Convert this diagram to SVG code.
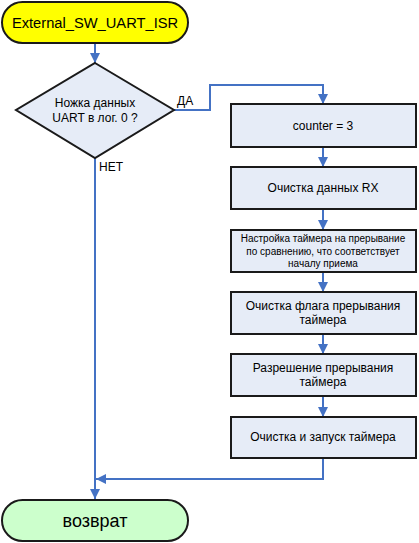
<svg xmlns="http://www.w3.org/2000/svg" width="419" height="543" viewBox="0 0 419 543">
<defs>
<marker id="arr" viewBox="0 0 10 10" refX="10" refY="5" markerWidth="10" markerHeight="10" markerUnits="userSpaceOnUse" orient="auto">
<path d="M0,0 L10,5 L0,10 z" fill="#4472C4"/>
</marker>
</defs>
<style>
.box{fill:#E6ECF7;stroke:#1a1a1a;stroke-width:2}
.t{font-family:"Liberation Sans",Arial,sans-serif;fill:#000;text-anchor:middle}
.c{fill:none;stroke:#4472C4;stroke-width:2;marker-end:url(#arr)}
.l{font-family:"Liberation Sans",Arial,sans-serif;font-size:12px;fill:#000}
</style>
<rect width="419" height="543" fill="#fff"/>
<g id="connectors">
<line class="c" x1="95" y1="43" x2="95" y2="63"/>
<polyline class="c" points="174,110 210,110 210,85 323,85 323,104"/>
<line class="c" x1="323" y1="147" x2="323" y2="167"/>
<line class="c" x1="323" y1="209" x2="323" y2="230"/>
<line class="c" x1="323" y1="272" x2="323" y2="292"/>
<line class="c" x1="323" y1="334" x2="323" y2="354"/>
<line class="c" x1="323" y1="396" x2="323" y2="417"/>
<polyline class="c" points="323,458 323,479 96,479"/>
<line class="c" x1="95" y1="158" x2="95" y2="499"/>
<text class="l" x="177" y="105">ДА</text>
<text class="l" x="99" y="171">НЕТ</text>
</g>
<g id="start">
<rect x="2" y="2" width="186" height="41" rx="20.5" fill="#FFFF00" stroke="#1a1a1a" stroke-width="2"/>
<text class="t" x="95" y="28" font-size="14.7">External_SW_UART_ISR</text>
</g>
<g id="decision">
<polygon points="95,63 174,110 95,158 16,110" class="box"/>
<text class="t" x="95" y="107" font-size="12">Ножка данных</text>
<text class="t" x="95" y="122" font-size="12">UART в лог. 0 ?</text>
</g>
<g id="n1">
<rect class="box" x="231" y="104" width="185" height="43"/>
<text class="t" x="323" y="130" font-size="12">counter = 3</text>
</g>
<g id="n2">
<rect class="box" x="231" y="167" width="185" height="42"/>
<text class="t" x="323" y="192" font-size="12">Очистка данных RX</text>
</g>
<g id="n3">
<rect class="box" x="231" y="230" width="185" height="42"/>
<text class="t" x="323" y="242" font-size="10">Настройка таймера на прерывание</text>
<text class="t" x="323" y="255" font-size="10">по сравнению, что соответствует</text>
<text class="t" x="323" y="267" font-size="10">началу приема</text>
</g>
<g id="n4">
<rect class="box" x="231" y="292" width="185" height="42"/>
<text class="t" x="323" y="310" font-size="12">Очистка флага прерывания</text>
<text class="t" x="323" y="324" font-size="12">таймера</text>
</g>
<g id="n5">
<rect class="box" x="231" y="354" width="185" height="42"/>
<text class="t" x="323" y="372" font-size="12">Разрешение прерывания</text>
<text class="t" x="323" y="386" font-size="12">таймера</text>
</g>
<g id="n6">
<rect class="box" x="231" y="417" width="185" height="41"/>
<text class="t" x="323" y="441" font-size="12">Очистка и запуск таймера</text>
</g>
<g id="end">
<rect x="2" y="500" width="186" height="41" rx="20.5" fill="#CCFFCC" stroke="#1a1a1a" stroke-width="2"/>
<text class="t" x="95" y="527" font-size="18">возврат</text>
</g>
</svg>
